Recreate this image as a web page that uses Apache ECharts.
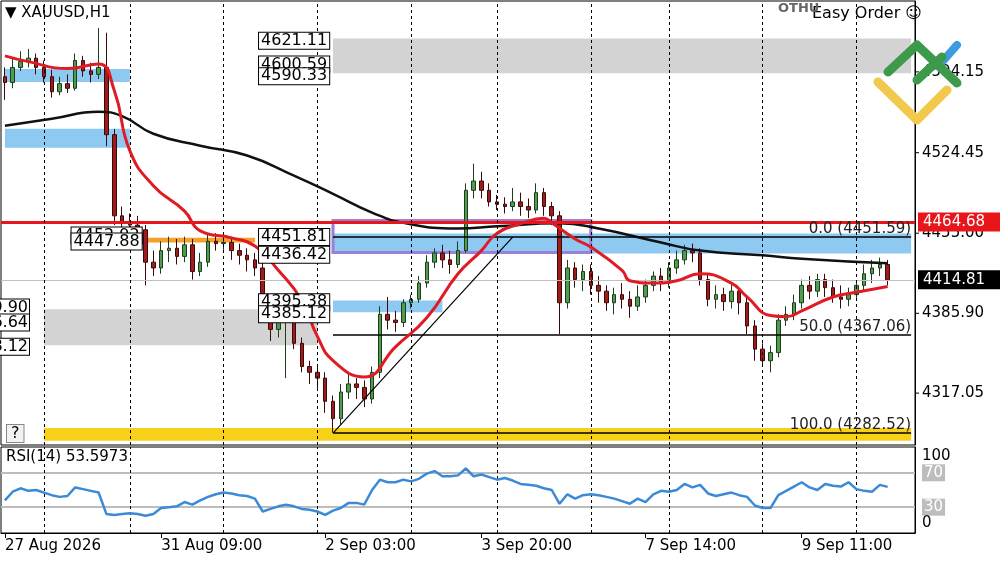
<!DOCTYPE html>
<html>
<head>
<meta charset="utf-8">
<script src="https://cdn.jsdelivr.net/npm/echarts@6/dist/echarts.min.js"></script>
<style>
  html, body { margin: 0; padding: 0; background: #fff; }
  #chart { width: 1000px; height: 562px; }
</style>
</head>
<body>
<div id="chart"></div>
<script>
// H1 gold candles (one bar = 2h here) [open, close, low, high]
var candles = [
  [4590,4585,4570,4598],[4585,4598,4580,4606],[4598,4603,4595,4612],[4603,4606,4598,4614],
  [4606,4598,4592,4610],[4598,4590,4585,4604],[4590,4577,4572,4596],[4577,4584,4574,4590],
  [4584,4580,4576,4592],[4580,4604,4578,4610],[4604,4595,4590,4608],[4595,4592,4585,4602],
  [4592,4598,4588,4632],[4598,4540,4530,4628],[4540,4470,4462,4545],[4470,4465,4458,4478],
  [4465,4462,4455,4472],[4462,4458,4445,4470],[4458,4430,4410,4462],[4430,4425,4418,4440],
  [4425,4440,4420,4448],[4440,4442,4430,4452],[4442,4435,4428,4450],[4435,4445,4430,4452],
  [4445,4422,4415,4450],[4422,4430,4418,4438],[4430,4448,4426,4455],[4448,4446,4440,4455],
  [4446,4447,4440,4456],[4447,4440,4432,4452],[4440,4436,4428,4446],[4436,4432,4422,4442],
  [4432,4425,4418,4438],[4425,4385,4378,4430],[4385,4372,4362,4392],[4372,4378,4365,4385],
  [4378,4380,4330,4388],[4380,4360,4355,4385],[4360,4340,4335,4365],[4340,4335,4325,4345],
  [4335,4330,4320,4342],[4330,4310,4300,4335],[4310,4295,4283,4315],[4295,4318,4290,4325],
  [4318,4325,4312,4335],[4325,4322,4312,4330],[4322,4312,4305,4328],[4312,4335,4308,4340],
  [4335,4385,4330,4392],[4385,4380,4372,4400],[4380,4378,4370,4388],[4378,4395,4374,4398],
  [4395,4398,4390,4402],[4398,4412,4395,4418],[4412,4430,4408,4436],[4430,4438,4425,4442],
  [4438,4432,4425,4445],[4432,4428,4420,4440],[4428,4440,4425,4448],[4440,4492,4438,4498],
  [4492,4500,4485,4515],[4500,4492,4485,4508],[4492,4482,4478,4498],[4482,4480,4475,4488],
  [4480,4478,4472,4486],[4478,4482,4474,4494],[4482,4478,4470,4490],[4478,4475,4468,4485],
  [4475,4490,4472,4498],[4490,4478,4470,4494],[4478,4470,4462,4482],[4470,4395,4368,4474],
  [4395,4425,4390,4432],[4425,4415,4408,4430],[4415,4422,4405,4428],[4422,4410,4402,4428],
  [4410,4405,4395,4418],[4405,4395,4388,4410],[4395,4402,4385,4408],[4402,4398,4390,4412],
  [4398,4392,4382,4405],[4392,4400,4388,4410],[4400,4410,4395,4415],[4410,4418,4405,4422],
  [4418,4412,4405,4425],[4412,4425,4408,4430],[4425,4432,4420,4440],[4432,4440,4428,4445],
  [4440,4438,4430,4446],[4438,4415,4410,4442],[4415,4398,4392,4420],[4398,4402,4390,4410],
  [4402,4396,4388,4408],[4396,4405,4390,4412],[4405,4395,4385,4408],[4395,4375,4368,4400],
  [4375,4355,4345,4380],[4355,4345,4340,4360],[4345,4352,4335,4358],[4352,4380,4348,4385],
  [4380,4385,4375,4392],[4385,4395,4380,4402],[4395,4410,4390,4415],[4410,4405,4398,4418],
  [4405,4415,4400,4420],[4415,4408,4400,4420],[4408,4400,4395,4415],[4400,4398,4390,4410],
  [4398,4402,4392,4408],[4402,4410,4398,4414],[4410,4420,4405,4428],[4420,4425,4412,4432],
  [4425,4428,4418,4434],[4428,4414.81,4410,4432]
];
var emptyBars = 3;

// moving averages, [bar, price]
var maFast = [[0,4608],[3,4603],[8,4597],[12,4601],[14,4578],[16,4526],[19,4496],[23,4474],
  [25,4457],[29,4451],[32,4444],[35,4423],[38,4397],[40,4366],[42,4345],[46,4331],[50,4357],
  [54,4382],[58,4420],[61,4440],[63,4455],[66,4463],[69,4468],[70,4464],[73,4450],[75,4443],
  [79,4423],[80,4414],[83,4412],[86,4414],[89,4420],[93,4412],[95,4400],[98,4384],[100,4383],
  [102,4388],[106,4400],[109,4404],[113,4409]];
var maSlow = [[0,4547.7],[6,4553.7],[12,4559.7],[15,4556],[19,4540.8],[25,4530.5],[31,4522],
  [37,4504.7],[42,4489],[47,4472.8],[51,4464],[58,4459],[63,4461],[71,4463.5],[76,4459],
  [84,4447],[89,4440],[97,4436],[102,4433],[113,4429]];

var rsi = [38,48,52,49,50,47,44,42,43,53,51,49,47,22,21,22,23,22,20,22,29,30,31,36,33,38,42,45,
  47,46,44,43,40,25,28,31,33,31,28,27,25,21,26,29,35,35,33,50,62,59,59,62,60,63,69,72,66,66,67,
  75,66,68,65,62,64,61,57,56,55,52,50,34,45,40,44,45,44,42,40,37,34,40,36,45,49,48,50,57,53,56,
  46,43,45,47,44,42,32,29,29,44,49,54,59,53,50,57,55,54,59,51,49,48,56,53.6];

var timeLabels = ['27 Aug 2026','31 Aug 09:00','2 Sep 03:00','3 Sep 20:00','7 Sep 14:00','9 Sep 11:00'];
var timeLabelBars = [0,20,41,61,82,102];
var daySeparators = [5,16,28,40,52,63,75,85,97,109];

var priceTicks = ['4594.15','4524.45','4455.00','4385.90','4317.05'];
var rsiTicks = ['100','70','30','0'];

var lastPrice = 4414.81;
var redLevel = 4464.68;
var fibLevels = [[4451.59,'0.0 (4451.59)'],[4367.06,'50.0 (4367.06)'],[4282.52,'100.0 (4282.52)']];
var fibStart = 42, fibTop = 65;

// zones [fromBar, toBar, top, bottom]
var grayZones = [[42,116,4623,4593],[5,40,4389.3,4358.4]];
var blueZones = [[0,16,4596.7,4585.5],[0,16,4545.1,4528.7],[42,116,4454.7,4437.5],[42,56,4397,4386.8]];
var yellowZone = [5,116,4287,4276];
var orangeZone = [18,32,4451,4447];
var purpleBox = [42,75,4466,4438.4];

// price boxes [text, right edge bar, price]
var boxLabels = [['4621.11',41,4621.11],['4600.59',41,4600.59],['4590.33',41,4590.33],
  ['4451.81',41,4451.81],['4436.42',41,4436.42],['4395.38',41,4395.38],['4385.12',41,4385.12],
  ['4452.92',17,4452.92],['4447.88',17,4447.88]];
var clippedLabels = [['4389.90',4391],['4376.64',4378],['4358.12',4357]];

var nBars = candles.length + emptyBars;
var cats = [];
for (var i = 0; i < nBars; i++) cats.push(String(i));

var font = 'DejaVu Sans';

function zone(z, color, extra) {
  return [{ coord: [String(z[0]), z[2]], itemStyle: Object.assign({ color: color }, extra || {}) },
          { coord: [String(z[1]), z[3]] }];
}

var areas = [];
grayZones.forEach(function (z) { areas.push(zone(z, '#d3d3d3')); });
blueZones.forEach(function (z) { areas.push(zone(z, '#8ec9f2')); });
areas.push(zone(yellowZone, '#f7d117'));
areas.push(zone(orangeZone, '#f5a02a'));
areas.push(zone(purpleBox, 'rgba(0,0,0,0)', { borderColor: '#9b7fd9', borderWidth: 3 }));

var lines = [
  { yAxis: redLevel, lineStyle: { color: '#e8161b', width: 3, type: 'solid' }, label: { show: false } },
  { yAxis: lastPrice, lineStyle: { color: '#c0c0c0', width: 1, type: 'solid' }, label: { show: false } }
];
fibLevels.forEach(function (f) {
  lines.push([{ coord: [String(fibStart), f[0]], lineStyle: { color: '#000', width: 1.5, type: 'solid' },
    label: { show: true, position: 'insideEndTop', formatter: f[1], color: '#222', fontFamily: font, fontSize: 15, distance: [0, 1] } },
    { coord: [String(nBars - 1), f[0]] }]);
});
lines.push([{ coord: [String(fibStart), fibLevels[2][0]], lineStyle: { color: '#000', width: 1.2, type: 'solid' }, label: { show: false } },
  { coord: [String(fibTop), fibLevels[0][0]] }]);

var sepLines = daySeparators.map(function (b) {
  return { xAxis: String(b), lineStyle: { color: '#000', width: 1, type: [3, 3] }, label: { show: false } };
});

var chart = echarts.init(document.getElementById('chart'));
chart.setOption({
  animation: false,
  backgroundColor: '#fff',
  grid: [
    { left: 1, right: 85, top: 1, height: 444, show: true, borderColor: '#000', borderWidth: 1 },
    { left: 1, right: 85, top: 447, height: 86, show: true, borderColor: '#000', borderWidth: 1 }
  ],
  xAxis: [
    { type: 'category', data: cats, gridIndex: 0, boundaryGap: true,
      axisLine: { show: false }, axisTick: { show: false }, axisLabel: { show: false } },
    { type: 'category', data: cats, gridIndex: 1, boundaryGap: true,
      axisLine: { lineStyle: { color: '#000' } },
      axisTick: { show: true, alignWithLabel: true, interval: function (i) { return timeLabelBars.indexOf(i) >= 0; }, lineStyle: { color: '#000' } },
      axisLabel: { interval: function (i) { return timeLabelBars.indexOf(i) >= 0; },
        formatter: function (v) { var k = timeLabelBars.indexOf(Number(v)); return k >= 0 ? timeLabels[k] : ''; },
        align: 'left', color: '#000', fontFamily: font, fontSize: 15, margin: 6 } }
  ],
  yAxis: [
    { gridIndex: 0, position: 'right', min: 4272.3, max: 4655.3, splitLine: { show: false },
      axisLine: { show: true, lineStyle: { color: '#000' } }, axisLabel: { show: false }, axisTick: { show: false } },
    { gridIndex: 1, position: 'right', min: 0, max: 100, splitLine: { show: false },
      axisLine: { show: true, lineStyle: { color: '#000' } }, axisLabel: { show: false }, axisTick: { show: false } }
  ],
  series: [
    { type: 'candlestick', xAxisIndex: 0, yAxisIndex: 0, data: candles, barWidth: 4,
      itemStyle: { color: '#4f9c4f', color0: '#a11b1b', borderColor: '#1d3d1d', borderColor0: '#3a0a0a', borderWidth: 1 },
      markArea: { silent: true, data: areas },
      markLine: { silent: true, symbol: 'none', data: lines }, z: 3 },
    { type: 'line', xAxisIndex: 0, yAxisIndex: 0, data: maSlow, smooth: true, symbol: 'none',
      lineStyle: { color: '#111', width: 2.5 }, z: 4 },
    { type: 'line', xAxisIndex: 0, yAxisIndex: 0, data: maFast, smooth: true, symbol: 'none',
      lineStyle: { color: '#e01b24', width: 3 }, z: 5,
      markLine: { silent: true, symbol: 'none', data: sepLines } },
    { type: 'line', xAxisIndex: 1, yAxisIndex: 1, data: rsi, symbol: 'none',
      lineStyle: { color: '#3a8ad8', width: 2.5 }, z: 5,
      markLine: { silent: true, symbol: 'none', label: { show: false },
        data: [{ yAxis: 70, lineStyle: { color: '#bdbdbd', width: 2, type: 'solid' } },
               { yAxis: 30, lineStyle: { color: '#bdbdbd', width: 2, type: 'solid' } }]
          .concat(daySeparators.map(function (b) {
            return { xAxis: String(b), lineStyle: { color: '#000', width: 1, type: [3, 3] } };
          })) } }
  ]
});

// overlay texts placed through the chart's own scales
var g = [];
var axisX = 922;
priceTicks.forEach(function (t) {
  var y = chart.convertToPixel({ yAxisIndex: 0 }, Number(t));
  g.push({ type: 'line', shape: { x1: 915, y1: y, x2: 919, y2: y }, style: { stroke: '#000' } });
  g.push({ type: 'text', x: axisX, y: y, style: { text: t, font: '15px ' + font, fill: '#000', verticalAlign: 'middle' } });
});
function priceTag(val, bg) {
  var y = chart.convertToPixel({ yAxisIndex: 0 }, val);
  g.push({ type: 'text', x: 918, y: y, z: 10, style: { text: val.toFixed(2), font: '15px ' + font, fill: '#fff',
    backgroundColor: bg, padding: [2, 5, 2, 5], width: 72, verticalAlign: 'middle' } });
}
priceTag(redLevel, '#e8161b');
priceTag(lastPrice, '#000');
rsiTicks.forEach(function (t) {
  var y = chart.convertToPixel({ yAxisIndex: 1 }, Number(t));
  var boxed = t === '70' || t === '30';
  var va = t === '100' ? 'top' : (t === '0' ? 'bottom' : 'middle');
  g.push({ type: 'text', x: axisX, y: y + (t === '100' ? 2 : t === '0' ? -2 : 0), style: { text: t, font: '15px ' + font,
    fill: boxed ? '#fff' : '#000', backgroundColor: boxed ? '#bdbdbd' : null, padding: boxed ? [1, 2, 1, 2] : 0, verticalAlign: va } });
});
boxLabels.forEach(function (b) {
  var x = chart.convertToPixel({ xAxisIndex: 0 }, String(b[1]));
  var y = chart.convertToPixel({ yAxisIndex: 0 }, b[2]);
  g.push({ type: 'text', x: x + 4, y: y, z: 8, style: { text: b[0], font: '16px ' + font, fill: '#000', align: 'right',
    verticalAlign: 'middle', backgroundColor: '#fff', borderColor: '#000', borderWidth: 1, padding: [0, 2, 0, 2] } });
});
clippedLabels.forEach(function (b) {
  var y = chart.convertToPixel({ yAxisIndex: 0 }, b[1]);
  g.push({ type: 'text', x: 29, y: y, z: 8, style: { text: b[0], font: '16px ' + font, fill: '#000', align: 'right',
    verticalAlign: 'middle', backgroundColor: '#fff', borderColor: '#000', borderWidth: 1, padding: [0, 1, 0, 1] } });
});
g.push({ type: 'text', left: 5, top: 6, z: 9, style: { text: '\u25BC XAUUSD,H1', font: '15px ' + font, fill: '#000' } });
g.push({ type: 'text', left: 6, top: 450, z: 9, style: { text: 'RSI(14) 53.5973', font: '15px ' + font, fill: '#000' } });
g.push({ type: 'text', left: 6, top: 424, z: 9, style: { text: '?', font: '16px ' + font, fill: '#000',
  backgroundColor: '#f2f2f2', borderColor: '#888', borderWidth: 1, padding: [1, 4, 0, 4] } });
g.push({ type: 'text', left: 812, top: 6, z: 9, style: { text: 'Easy Order \u263A', font: '16px ' + font, fill: '#000' } });
g.push({ type: 'text', left: 778, top: 2, z: 9, style: { text: 'OTHU', font: 'bold 13px ' + font, fill: '#666' } });
// corner logo
g.push({ type: 'polyline', z: 11, shape: { points: [[878, 82], [917, 120], [947, 90]] },
  style: { stroke: '#f2c94c', lineWidth: 9, lineCap: 'round', lineJoin: 'round', fill: null } });
g.push({ type: 'polyline', z: 12, shape: { points: [[942, 62], [957, 45]] },
  style: { stroke: '#3d9be0', lineWidth: 8, lineCap: 'round', fill: null } });
g.push({ type: 'polyline', z: 12, shape: { points: [[888, 72], [917, 45], [957, 83]] },
  style: { stroke: '#3c9a4a', lineWidth: 9, lineCap: 'round', lineJoin: 'round', fill: null } });
g.push({ type: 'polyline', z: 12, shape: { points: [[917, 80], [942, 57]] },
  style: { stroke: '#3c9a4a', lineWidth: 9, lineCap: 'round', fill: null } });
chart.setOption({ graphic: g });
</script>
</body>
</html>
